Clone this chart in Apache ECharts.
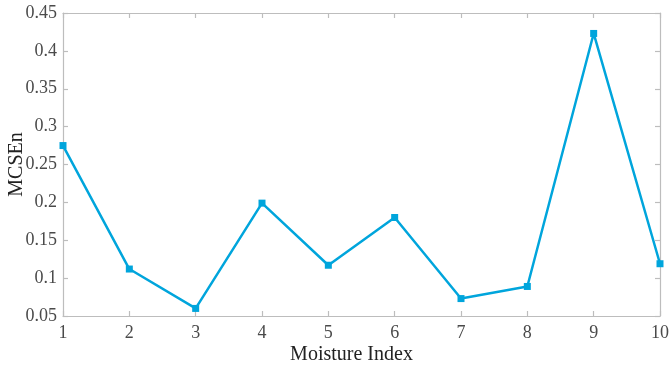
<!DOCTYPE html>
<html>
<head>
<meta charset="utf-8">
<script src="https://cdn.jsdelivr.net/npm/echarts@6/dist/echarts.min.js"></script>
<style>
html, body { margin: 0; padding: 0; background: #fff; }
#chart { width: 670px; height: 365px; }
</style>
</head>
<body>
<div id="chart"></div>
<script>
// Moisture index categories and the MCSEn value measured for each
const moistureIndex = [1, 2, 3, 4, 5, 6, 7, 8, 9, 10];
const mcsen = [0.275, 0.112, 0.060, 0.199, 0.117, 0.180, 0.073, 0.089, 0.423, 0.119];
const yTicks = [0.05, 0.1, 0.15, 0.2, 0.25, 0.3, 0.35, 0.4, 0.45];

const FONT = '"Liberation Serif", "Times New Roman", serif';
const AXIS_GRAY = '#bdbdbd';
const LABEL_GRAY = '#4a4a4a';

const chart = echarts.init(document.getElementById('chart'), null, { renderer: 'canvas' });

const baseAxisLine = { show: true, lineStyle: { color: AXIS_GRAY, width: 1.2 } };
const baseTick = { show: true, inside: true, length: 5, lineStyle: { color: AXIS_GRAY, width: 1.2 } };

chart.setOption({
  animation: false,
  backgroundColor: '#fff',
  grid: { left: 63, right: 10, top: 13, bottom: 49, containLabel: false, outerBoundsMode: 'none' },
  xAxis: [
    {
      type: 'value', min: 1, max: 10, interval: 1,
      name: 'Moisture Index', nameLocation: 'middle', nameGap: 29, nameMoveOverlap: false,
      nameTextStyle: { fontFamily: FONT, fontSize: 20, color: '#222', padding: [0, 20, 0, 0] },
      axisLine: baseAxisLine, axisTick: baseTick,
      axisLabel: { fontFamily: FONT, fontSize: 18, color: LABEL_GRAY, margin: 8 },
      splitLine: { show: false }
    },
    {
      type: 'value', min: 1, max: 10, interval: 1, position: 'top',
      axisLine: baseAxisLine, axisTick: baseTick,
      axisLabel: { show: false }, splitLine: { show: false }
    }
  ],
  yAxis: [
    {
      type: 'value', min: yTicks[0], max: yTicks[yTicks.length - 1], interval: 0.05,
      name: 'MCSEn', nameLocation: 'middle', nameGap: 36, nameMoveOverlap: false,
      nameTextStyle: { fontFamily: FONT, fontSize: 20, color: '#222' },
      axisLine: baseAxisLine, axisTick: baseTick,
      axisLabel: {
        fontFamily: FONT, fontSize: 18, color: LABEL_GRAY, margin: 6,
        formatter: v => String(+v.toFixed(2))
      },
      splitLine: { show: false }
    },
    {
      type: 'value', min: yTicks[0], max: yTicks[yTicks.length - 1], interval: 0.05, position: 'right',
      axisLine: baseAxisLine, axisTick: baseTick,
      axisLabel: { show: false }, splitLine: { show: false }
    }
  ],
  series: [
    {
      type: 'line',
      data: moistureIndex.map((x, i) => [x, mcsen[i]]),
      xAxisIndex: 0, yAxisIndex: 0,
      lineStyle: { color: '#00a5dc', width: 2.5 },
      itemStyle: { color: '#00a5dc' },
      symbol: 'rect', symbolSize: 7,
      showSymbol: true
    }
  ]
});
</script>
</body>
</html>
